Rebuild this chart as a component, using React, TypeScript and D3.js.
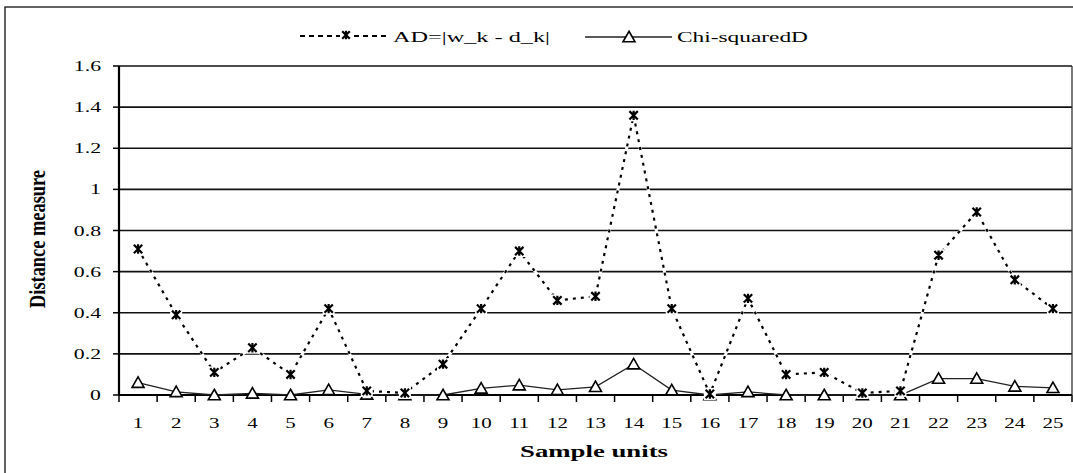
import React from "react";
import * as d3 from "d3";

const categories = ["1","2","3","4","5","6","7","8","9","10","11","12","13","14","15","16","17","18","19","20","21","22","23","24","25"];
const adValues = [0.71,0.39,0.11,0.23,0.10,0.42,0.02,0.01,0.15,0.42,0.70,0.46,0.48,1.36,0.42,0.005,0.47,0.10,0.11,0.01,0.02,0.68,0.89,0.56,0.42];
const chiValues = [0.06,0.015,0.0,0.008,0.0,0.025,0.003,0.0,0.0,0.032,0.048,0.025,0.04,0.15,0.024,0.0,0.015,0.0,0.0,0.0,0.0,0.08,0.08,0.042,0.035];
const yTicks = [0,0.2,0.4,0.6,0.8,1,1.2,1.4,1.6];
const seriesNames = ["AD=|w_k - d_k|", "Chi-squaredD"];

const W = 1073, H = 473;
const left = 119, right = 1072, top = 66, bottom = 395;
const FONT = "'Liberation Serif', 'Times New Roman', serif";

function Asterisk({ x, y, s = 4.2 }: { x: number; y: number; s?: number }) {
  return (
    <g>
      <rect x={x - 6} y={y - 6} width={12} height={12} fill="#fff" />
      <path
        d={`M${x - s},${y - s}L${x + s},${y + s}M${x - s},${y + s}L${x + s},${y - s}M${x},${y - s - 0.5}L${x},${y + s + 0.5}`}
        stroke="#000"
        strokeWidth={2.2}
      />
    </g>
  );
}

function Triangle({ x, y }: { x: number; y: number }) {
  const w = 6, h = 9.5;
  return (
    <path
      d={`M${x},${y - h / 2 - 1}L${x + w},${y + h / 2}L${x - w},${y + h / 2}Z`}
      fill="#fff"
      stroke="#000"
      strokeWidth={1.6}
    />
  );
}

export default function App() {
  const x = d3.scaleBand<string>().domain(categories).range([left, right]).padding(0);
  const y = d3.scaleLinear().domain([0, 1.6]).range([bottom, top]);
  const cx = (c: string) => (x(c) as number) + x.bandwidth() / 2;

  const line = d3
    .line<number>()
    .x((_, i) => cx(categories[i]))
    .y((v) => y(v));

  const adPath = line(adValues) || "";
  const chiPath = line(chiValues) || "";

  const boundaries = categories.map((c) => x(c) as number).concat([right]);

  return (
    <div style={{ position: "absolute", left: 0, top: 0 }}>
      <svg width={W} height={H} style={{ display: "block", background: "#fff" }} fontFamily={FONT}>
        <rect x={5} y={7} width={W + 10} height={H + 10} fill="none" stroke="#222" strokeWidth={1.4} />

        {yTicks.filter((t) => t > 0).map((t) => (
          <line key={t} x1={left} x2={right} y1={y(t)} y2={y(t)} stroke="#111" strokeWidth={1.6} />
        ))}
        <line x1={right} x2={right} y1={top} y2={bottom} stroke="#333" strokeWidth={1.3} />

        {yTicks.map((t) => (
          <g key={"yt" + t}>
            <line x1={113} x2={left} y1={y(t)} y2={y(t)} stroke="#000" strokeWidth={1.5} />
            <text
              transform={`translate(101,${y(t) + 5}) scale(1.45,1)`}
              textAnchor="end"
              fontSize={15}
              fill="#000"
            >
              {String(t)}
            </text>
          </g>
        ))}

        {boundaries.map((b, i) => (
          <line key={"xt" + i} x1={b} x2={b} y1={bottom} y2={bottom + 7} stroke="#000" strokeWidth={1.5} />
        ))}
        {categories.map((c) => (
          <text
            key={"xl" + c}
            transform={`translate(${cx(c)},428) scale(1.4,1)`}
            textAnchor="middle"
            fontSize={15}
            fill="#000"
          >
            {c}
          </text>
        ))}

        <line x1={left} x2={left} y1={top} y2={bottom} stroke="#000" strokeWidth={2.2} />
        <line x1={left} x2={right} y1={bottom} y2={bottom} stroke="#000" strokeWidth={2.2} />

        <path d={chiPath} fill="none" stroke="#222" strokeWidth={1.3} />
        {chiValues.map((v, i) => (
          <Triangle key={"tr" + i} x={cx(categories[i])} y={y(v)} />
        ))}

        <path d={adPath} fill="none" stroke="#fff" strokeWidth={3} />
        <path d={adPath} fill="none" stroke="#000" strokeWidth={2.2} strokeDasharray="3,5" />
        {adValues.map((v, i) => (
          <Asterisk key={"as" + i} x={cx(categories[i])} y={y(v)} />
        ))}

        <line x1={300} x2={388} y1={36} y2={36} stroke="#000" strokeWidth={2} strokeDasharray="5,4" />
        <Asterisk x={346} y={35} s={3.8} />
        <text x={393} y={42} fontSize={15} textLength={157} lengthAdjust="spacingAndGlyphs" fill="#000">
          {seriesNames[0]}
        </text>
        <line x1={585} x2={672} y1={37} y2={37} stroke="#222" strokeWidth={1.3} />
        <Triangle x={629} y={37} />
        <text x={677} y={42} fontSize={15} textLength={131} lengthAdjust="spacingAndGlyphs" fill="#000">
          {seriesNames[1]}
        </text>

        <text x={520} y={457} fontSize={16} fontWeight="bold" textLength={148} lengthAdjust="spacingAndGlyphs" fill="#000">
          Sample units
        </text>
        <text
          transform={`translate(45,239) scale(1.4,1) rotate(-90)`}
          textAnchor="middle"
          fontSize={16}
          fontWeight="bold"
          textLength={138}
          lengthAdjust="spacingAndGlyphs"
          fill="#000"
        >
          Distance measure
        </text>
      </svg>
    </div>
  );
}
